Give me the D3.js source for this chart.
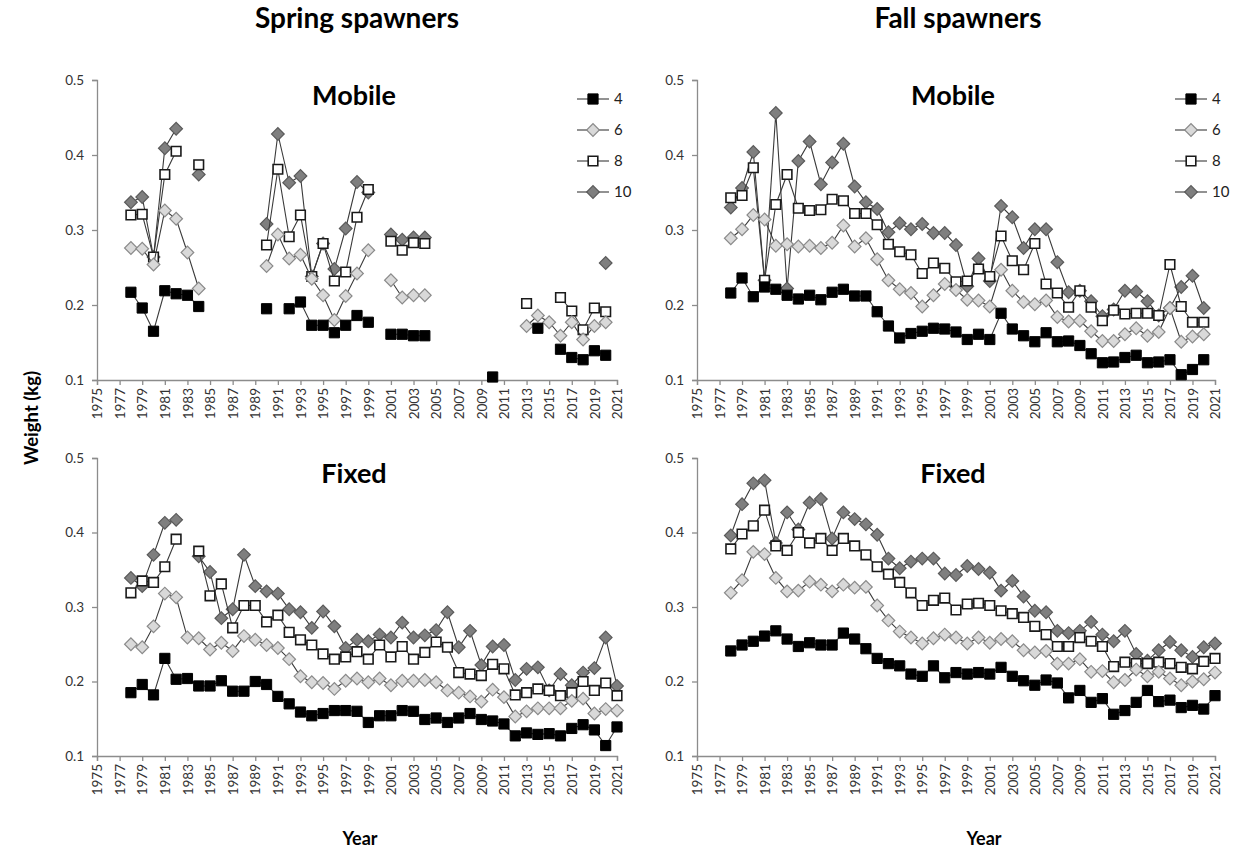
<!DOCTYPE html>
<html>
<head>
<meta charset="utf-8">
<script src="https://cdn.jsdelivr.net/npm/d3@7"></script>
<style>
  body { margin: 0; background: #fff; }
  svg { display: block; }
  text { font-family: Lato, "Open Sans", sans-serif; }
</style>
</head>
<body>
<div id="canvas"></div>
<script>
// years 1978..2021, null = no sample
const years = [1978, 1979, 1980, 1981, 1982, 1983, 1984, 1985, 1986, 1987, 1988, 1989, 1990,
  1991, 1992, 1993, 1994, 1995, 1996, 1997, 1998, 1999, 2000, 2001, 2002, 2003, 2004, 2005,
  2006, 2007, 2008, 2009, 2010, 2011, 2012, 2013, 2014, 2015, 2016, 2017, 2018, 2019, 2020, 2021];
const seriesNames = ["4", "6", "8", "10"];
const yTicks = [0.1, 0.2, 0.3, 0.4, 0.5];
const xTicks = [1975, 1977, 1979, 1981, 1983, 1985, 1987, 1989, 1991, 1993, 1995, 1997, 1999,
  2001, 2003, 2005, 2007, 2009, 2011, 2013, 2015, 2017, 2019, 2021];

// Spring spawners, mobile gear
const springMobile4 = [.217, .196, .165, .219, .215, .213, .198, null, null, null, null, null, .195,
  null, .195, .204, .173, .173, .163, .173, .186, .177, null, .161, .161, .159, .159, null,
  null, null, null, null, .104, null, null, null, .169, null, .141, .130, .127, .139, .133, null];
const springMobile6 = [.276, .275, .254, .326, .315, .270, .222, null, null, null, null, null, .252,
  .294, .262, .267, .235, .213, .180, .212, .242, .273, null, .233, .210, .213, .213, null,
  null, null, null, null, null, null, null, .172, .186, .177, .159, .177, .154, .172, .177, null];
const springMobile8 = [.320, .321, .264, .374, .405, null, .387, null, null, null, null, null, .280,
  .381, .291, .320, .238, .282, .232, .244, .317, .354, null, .285, .273, .283, .282, null,
  null, null, null, null, null, null, null, .202, null, null, .210, .192, .167, .196, .191, null];
const springMobile10 = [.337, .344, .264, .409, .435, null, .374, null, null, null, null, null, .308,
  .428, .363, .372, .238, .282, .248, .302, .364, .350, null, .294, .287, .290, .290, null,
  null, null, null, null, null, null, null, null, null, null, null, null, null, null, .256, null];

// Fall spawners, mobile gear
const fallMobile4 = [.216, .236, .211, .224, .221, .213, .208, .213, .207, .217, .221, .212, .212,
  .191, .172, .156, .162, .165, .169, .168, .164, .154, .161, .154, .189, .168, .159, .151,
  .163, .151, .152, .146, .135, .123, .124, .130, .133, .123, .124, .127, .107, .114, .127, null];
const fallMobile6 = [.289, .301, .320, .314, .279, .281, .278, .279, .276, .283, .306, .278, .289,
  .261, .233, .221, .216, .198, .213, .228, .220, .207, .206, .198, .247, .219, .204, .201,
  .206, .184, .178, .179, .165, .152, .152, .161, .169, .159, .164, .196, .151, .158, .161, null];
const fallMobile8 = [.343, .346, .383, .233, .334, .374, .329, .326, .327, .341, .339, .322, .322,
  .307, .281, .271, .267, .242, .256, .249, .231, .232, .248, .238, .292, .259, .247, .282,
  .228, .216, .197, .219, .197, .179, .193, .188, .189, .189, .186, .254, .198, .177, .177, null];
const fallMobile10 = [.330, .356, .404, .233, .456, .222, .392, .418, .361, .390, .415, .358, .337,
  .328, .297, .309, .301, .308, .296, .296, .280, .225, .262, .232, .332, .317, .276, .301,
  .301, .257, .217, .219, .205, .185, .194, .219, .218, .205, .186, .196, .224, .239, .196, null];

// Spring spawners, fixed gear
const springFixed4 = [.185, .196, .182, .231, .203, .204, .194, .194, .201, .187, .187, .200, .196,
  .180, .170, .159, .154, .157, .161, .161, .160, .145, .154, .154, .161, .160, .149, .151,
  .145, .151, .157, .149, .147, .143, .127, .131, .129, .130, .127, .137, .142, .135, .114, .139];
const springFixed6 = [.250, .246, .274, .318, .313, .259, .258, .243, .252, .241, .261, .256, .249,
  .245, .230, .207, .199, .198, .190, .201, .204, .199, .204, .195, .201, .201, .202, .199,
  .188, .185, .180, .173, .189, .179, .153, .160, .164, .164, .164, .174, .177, .157, .163, .161];
const springFixed8 = [.319, .335, .333, .354, .391, null, .375, .315, .331, .272, .302, .302, .280,
  .289, .266, .256, .249, .237, .230, .233, .240, .230, .249, .233, .247, .230, .239, .253,
  .246, .212, .210, .208, .223, .217, .182, .185, .190, .188, .181, .185, .200, .188, .198, .181];
const springFixed10 = [.339, .328, .370, .413, .417, null, .368, .347, .285, .297, .370, .328, .321,
  .318, .297, .293, .272, .294, .274, .245, .256, .254, .263, .259, .279, .259, .262, .269,
  .293, .246, .268, .222, .247, .249, .202, .217, .219, .188, .210, .195, .212, .218, .259, .194];

// Fall spawners, fixed gear
const fallFixed4 = [.241, .249, .254, .261, .268, .257, .247, .252, .249, .249, .265, .257, .244,
  .231, .224, .221, .210, .207, .221, .205, .212, .210, .212, .210, .219, .207, .201, .195,
  .202, .198, .178, .188, .172, .177, .156, .161, .172, .188, .173, .175, .165, .168, .163, .181];
const fallFixed6 = [.319, .336, .374, .371, .339, .321, .322, .334, .330, .321, .330, .326, .327,
  .302, .282, .267, .259, .251, .258, .263, .259, .251, .259, .252, .257, .254, .242, .239,
  .241, .224, .224, .230, .213, .214, .199, .202, .216, .207, .213, .204, .195, .200, .203, .212];
const fallFixed8 = [.378, .398, .409, .430, .382, .376, .400, .386, .392, .376, .392, .382, .370,
  .354, .344, .333, .319, .302, .309, .312, .296, .304, .305, .302, .295, .291, .286, .274,
  .263, .247, .247, .259, .254, .247, .220, .226, .224, .224, .226, .224, .219, .217, .227, .231];
const fallFixed10 = [.396, .438, .466, .470, .386, .427, .404, .440, .445, .392, .427, .418, .411,
  .397, .365, .352, .361, .365, .365, .345, .343, .355, .351, .346, .322, .335, .314, .295,
  .293, .268, .265, .268, .280, .263, .254, .268, .237, .228, .242, .253, .242, .233, .246, .251];

const width = 1239;
const height = 853;

const styles = [
  { shape: d3.symbolSquare, size: 104, rot: 0, fill: "#000", stroke: "#000", sw: 1 },
  { shape: d3.symbolSquare, size: 80, rot: 45, fill: "#d9d9d9", stroke: "#8a8a8a", sw: 1.2 },
  { shape: d3.symbolSquare, size: 92, rot: 0, fill: "#fff", stroke: "#1a1a1a", sw: 1.6 },
  { shape: d3.symbolSquare, size: 80, rot: 45, fill: "#7f7f7f", stroke: "#5a5a5a", sw: 1.2 }
];

const panels = [
  { left: 97, right: 617, top: 80, bottom: 380, sub: "Mobile", legend: true,
    series: [springMobile4, springMobile6, springMobile8, springMobile10] },
  { left: 697, right: 1215, top: 80, bottom: 380, sub: "Mobile", legend: true,
    series: [fallMobile4, fallMobile6, fallMobile8, fallMobile10] },
  { left: 97, right: 617, top: 458, bottom: 756, sub: "Fixed", legend: false,
    series: [springFixed4, springFixed6, springFixed8, springFixed10] },
  { left: 697, right: 1215, top: 458, bottom: 756, sub: "Fixed", legend: false,
    series: [fallFixed4, fallFixed6, fallFixed8, fallFixed10] }
];

const svg = d3.select("#canvas").append("svg")
  .attr("width", width)
  .attr("height", height);

svg.append("rect").attr("width", width).attr("height", height).attr("fill", "#fff");

function marker(g, st, cx, cy) {
  g.append("path")
    .attr("d", d3.symbol().type(st.shape).size(st.size)())
    .attr("transform", `translate(${cx},${cy}) rotate(${st.rot})`)
    .attr("fill", st.fill)
    .attr("stroke", st.stroke)
    .attr("stroke-width", st.sw);
}

panels.forEach(p => {
  const x = d3.scaleLinear().domain([1975, 2021]).range([p.left, p.right]);
  const y = d3.scaleLinear().domain([0.1, 0.5]).range([p.bottom, p.top]);

  const g = svg.append("g");

  // axes
  const ya = g.append("g")
    .attr("transform", `translate(${p.left},0)`)
    .call(d3.axisLeft(y).tickValues(yTicks).tickSize(5).tickPadding(8).tickFormat(d3.format(".1f")));
  const xa = g.append("g")
    .attr("transform", `translate(0,${p.bottom})`)
    .call(d3.axisBottom(x).tickValues(xTicks).tickSize(5).tickFormat(d => d));
  xa.selectAll("text")
    .attr("transform", "rotate(-90)")
    .attr("text-anchor", "end")
    .attr("x", -8)
    .attr("y", 0)
    .attr("dy", "0.35em");
  [ya, xa].forEach(a => {
    a.select(".domain").attr("stroke", "#8c8c8c").attr("stroke-width", 1.3);
    a.selectAll(".tick line").attr("stroke", "#8c8c8c").attr("stroke-width", 1.3);
    a.selectAll("text").attr("fill", "#333").style("font-size", "13.5px");
  });

  // panel subtitle
  g.append("text")
    .attr("x", (p.left + p.right) / 2 - 3)
    .attr("y", p.top + 25)
    .attr("text-anchor", "middle")
    .style("font-size", "27px")
    .style("font-weight", "bold")
    .text(p.sub);

  // series, drawn from 10 down to 4 so the smaller ages sit on top
  [3, 2, 1, 0].forEach(i => {
    const vals = p.series[i];
    const pts = years.map((yr, k) => ({ yr: yr, v: vals[k] }));
    const line = d3.line()
      .defined(d => d.v != null)
      .x(d => x(d.yr))
      .y(d => y(d.v));
    g.append("path")
      .datum(pts)
      .attr("d", line)
      .attr("fill", "none")
      .attr("stroke", "#3a3a3a")
      .attr("stroke-width", 1.1);
    pts.filter(d => d.v != null).forEach(d => marker(g, styles[i], x(d.yr), y(d.v)));
  });

  // legend
  if (p.legend) {
    const lx = p.right - 40;
    seriesNames.forEach((name, i) => {
      const ly = p.top + 19 + i * 31;
      g.append("line")
        .attr("x1", lx).attr("x2", lx + 32)
        .attr("y1", ly).attr("y2", ly)
        .attr("stroke", "#3a3a3a").attr("stroke-width", 1.1);
      marker(g, styles[i], lx + 16, ly);
      g.append("text")
        .attr("x", lx + 37)
        .attr("y", ly)
        .attr("dy", "0.35em")
        .attr("fill", "#222")
        .style("font-size", "15px")
        .text(name);
    });
  }
});

// headings and axis titles
svg.append("text").attr("x", 357).attr("y", 28).attr("text-anchor", "middle")
  .style("font-size", "28px").style("font-weight", "bold").text("Spring spawners");
svg.append("text").attr("x", 958).attr("y", 28).attr("text-anchor", "middle")
  .style("font-size", "28px").style("font-weight", "bold").text("Fall spawners");
svg.append("text")
  .attr("transform", "translate(38,418) rotate(-90)")
  .attr("text-anchor", "middle")
  .style("font-size", "18.5px").style("font-weight", "bold")
  .text("Weight (kg)");
svg.append("text").attr("x", 360).attr("y", 845).attr("text-anchor", "middle")
  .style("font-size", "18px").style("font-weight", "bold").text("Year");
svg.append("text").attr("x", 984).attr("y", 845).attr("text-anchor", "middle")
  .style("font-size", "18px").style("font-weight", "bold").text("Year");
</script>
</body>
</html>
